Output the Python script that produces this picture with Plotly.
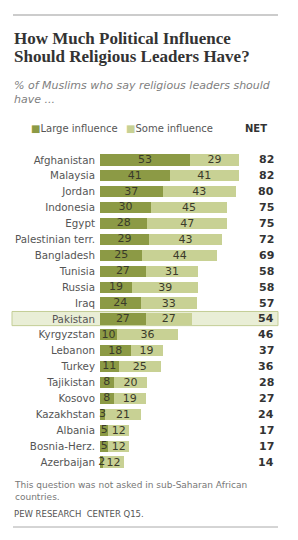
import plotly.graph_objects as go

countries = ["Afghanistan", "Malaysia", "Jordan", "Indonesia", "Egypt",
             "Palestinian terr.", "Bangladesh", "Tunisia", "Russia", "Iraq",
             "Pakistan", "Kyrgyzstan", "Lebanon", "Turkey", "Tajikistan",
             "Kosovo", "Kazakhstan", "Albania", "Bosnia-Herz.", "Azerbaijan"]
large = [53, 41, 37, 30, 28, 29, 25, 27, 19, 24, 27, 10, 18, 11, 8, 8, 3, 5, 5, 2]
some = [29, 41, 43, 45, 47, 43, 44, 31, 39, 33, 27, 36, 19, 25, 20, 19, 21, 12, 12, 12]
net = [82, 82, 80, 75, 75, 72, 69, 58, 58, 57, 54, 46, 37, 36, 28, 27, 24, 17, 17, 14]
highlight = "Pakistan"

W, H = 298, 540
DARK = "#8c9a45"
LIGHT = "#c8d194"
FONT = "DejaVu Sans"

def px(x):
    return x / W

def py(y):
    return 1 - y / H

fig = go.Figure()
fig.add_trace(go.Bar(y=countries, x=large, orientation="h", name="Large influence",
                     marker=dict(color=DARK, line=dict(width=0)), hoverinfo="x+y"))
fig.add_trace(go.Bar(y=countries, x=some, orientation="h", name="Some influence",
                     marker=dict(color=LIGHT, line=dict(width=0)),
                     text=some, textposition="inside", insidetextanchor="middle",
                     textangle=0, constraintext="none",
                     textfont=dict(color="#3a3a2a", size=11, family=FONT)))
# labels of the dark segments, drawn on top of both bars
fig.add_trace(go.Scatter(y=countries, x=[v / 2 for v in large], mode="text",
                         text=[str(v) for v in large], textposition="middle center",
                         textfont=dict(color="#3a3a2a", size=11, family=FONT),
                         cliponaxis=False, hoverinfo="skip", showlegend=False))

top_px, bot_px = 152.0, 470.0
fig.update_layout(
    width=W, height=H, margin=dict(l=0, r=0, t=0, b=0),
    paper_bgcolor="white", plot_bgcolor="rgba(0,0,0,0)",
    barmode="stack", bargap=0.3, showlegend=False,
    uniformtext=dict(minsize=10, mode="show"),
    xaxis=dict(domain=[px(100), 1], range=[0, (W - 100) / 1.695],
               visible=False, fixedrange=True),
    yaxis=dict(domain=[py(bot_px), py(top_px)], autorange=False,
               range=[len(countries) - 0.5, -0.5], type="category",
               categoryorder="array", categoryarray=countries,
               showgrid=False, zeroline=False, showline=False, ticks="",
               ticklabelstandoff=4,
               tickfont=dict(family=FONT, size=10.3, color="#555555")),
    font=dict(family=FONT),
)

hi = countries.index(highlight)
fig.add_shape(type="rect", xref="paper", yref="y", x0=px(12), x1=px(278),
              y0=hi - 0.47, y1=hi + 0.42, layer="below",
              fillcolor="#e9eed6", line=dict(color="#c3cd95", width=1))

# top and bottom rules
fig.add_shape(type="line", xref="paper", yref="paper", x0=px(13), x1=px(278),
              y0=py(15), y1=py(15), line=dict(color="#999999", width=1))
fig.add_shape(type="line", xref="paper", yref="paper", x0=px(13), x1=px(278),
              y0=py(527), y1=py(527), line=dict(color="#aaaaaa", width=1))

ann = []
for txt, yy in [("How Much Political Influence", 38), ("Should Religious Leaders Have?", 57)]:
    ann.append(dict(x=px(12), y=py(yy), xref="paper", yref="paper", xanchor="left", yanchor="middle",
                    text=f"<b>{txt}</b>", align="left", showarrow=False,
                    font=dict(family="Liberation Serif", size=17, color="#333333")))
ann.append(dict(x=px(12), y=py(92), xref="paper", yref="paper", xanchor="left", yanchor="middle",
                text="<i>% of Muslims who say religious leaders should<br>have ...</i>",
                align="left", showarrow=False,
                font=dict(family=FONT, size=11, color="#808080")))
ann.append(dict(x=px(29), y=py(128), xref="paper", yref="paper", xanchor="left", yanchor="middle",
                text=f"<span style='color:{DARK}'>■</span>Large influence", showarrow=False,
                font=dict(family=FONT, size=10, color="#555555")))
ann.append(dict(x=px(124), y=py(128), xref="paper", yref="paper", xanchor="left", yanchor="middle",
                text=f"<span style='color:{LIGHT}'>■</span>Some influence", showarrow=False,
                font=dict(family=FONT, size=10, color="#555555")))
ann.append(dict(x=px(269), y=py(128), xref="paper", yref="paper", xanchor="right", yanchor="middle",
                text="<b>NET</b>", showarrow=False,
                font=dict(family=FONT, size=10, color="#333333")))
for c, n in zip(countries, net):
    ann.append(dict(x=px(276), y=c, xref="paper", yref="y", xanchor="right", yanchor="middle",
                    text=f"<b>{n}</b>", showarrow=False,
                    font=dict(family=FONT, size=11, color="#333333")))
ann.append(dict(x=px(12), y=py(491), xref="paper", yref="paper", xanchor="left", yanchor="middle",
                text="This question was not asked in sub-Saharan African<br>countries.",
                align="left", showarrow=False,
                font=dict(family=FONT, size=9, color="#777777")))
ann.append(dict(x=px(12), y=py(514), xref="paper", yref="paper", xanchor="left", yanchor="middle",
                text="PEW RESEARCH  CENTER Q15.", showarrow=False,
                font=dict(family=FONT, size=8.5, color="#555555")))
fig.update_layout(annotations=ann)

fig.write_html("out.html")
